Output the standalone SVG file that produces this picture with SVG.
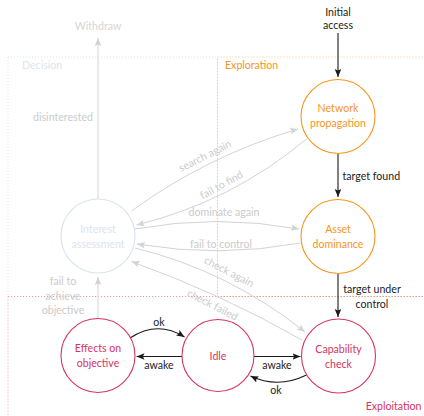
<svg xmlns="http://www.w3.org/2000/svg" width="424" height="416" viewBox="0 0 424 416">
  <style>
    text { font-family: Lato, "Open Sans", "Liberation Sans", sans-serif; font-size: 10.6px; }
    .mid { text-anchor: middle; }
    .zone { fill: none; stroke-width: 0.9; stroke-dasharray: 1 2; }
    .node { fill: #ffffff; stroke-width: 1.1; }
    .explore { stroke: #F7941D; }
    .exploit { stroke: #D7345F; }
    .decide { stroke: #D9E3EE; }
    .t-explore { fill: #F7941D; }
    .t-exploit { fill: #D7345F; }
    .t-decide { fill: #DCE5EF; }
    .t-grey { fill: #CBCBCB; }
    .t-black { fill: #222222; }
    .e-black { fill: none; stroke: #1a1a1a; stroke-width: 1.1; }
    .e-grey { fill: none; stroke: #D3D3D3; stroke-width: 1; }
    .e-exit { fill: none; stroke: #DDDDDD; stroke-width: 1.3; }
  </style>
  <defs>
    <marker id="tip-black" markerUnits="userSpaceOnUse" viewBox="0 -4 8 8" refX="8" refY="0" markerWidth="8" markerHeight="8" orient="auto">
      <path d="M0,-3.3 L8,0 L0,3.3 L1.6,0 Z" fill="#1a1a1a"/>
    </marker>
    <marker id="tip-grey" markerUnits="userSpaceOnUse" viewBox="0 -4 8 8" refX="8" refY="0" markerWidth="8" markerHeight="8" orient="auto">
      <path d="M0,-3.3 L8,0 L0,3.3 L1.6,0 Z" fill="#D3D3D3"/>
    </marker>
  </defs>

  <!-- phase zones -->
  <g id="zones">
    <rect class="zone" x="8" y="57" width="209.5" height="239.5" stroke="#D9E3EE"/>
    <rect class="zone" x="217.5" y="57" width="212" height="239.5" stroke="#FBC084"/>
    <rect class="zone" x="8" y="296.5" width="421" height="124" stroke="#EE8FA8"/>
    <text x="22" y="68.5" class="t-decide">Decision</text>
    <text x="225" y="68.5" class="t-explore">Exploration</text>
    <text x="421.5" y="410" class="t-exploit" text-anchor="end">Exploitation</text>
  </g>

  <!-- transitions -->
  <g id="connectors">
    <!-- entry and forward path -->
    <path class="e-black" d="M338,33 L338,77" marker-end="url(#tip-black)"/>
    <path class="e-black" d="M338,154 L338,197" marker-end="url(#tip-black)"/>
    <path class="e-black" d="M338,274 L338,317" marker-end="url(#tip-black)"/>
    <!-- exploitation loop -->
    <path class="e-black" d="M130,338 Q157.5,320 184.5,337" marker-end="url(#tip-black)"/>
    <path class="e-black" d="M182,356.5 L136.5,356.5" marker-end="url(#tip-black)"/>
    <path class="e-black" d="M254,356.5 L300.5,356.5" marker-end="url(#tip-black)"/>
    <path class="e-black" d="M306.5,375 Q278,389 250.5,376" marker-end="url(#tip-black)"/>
    <!-- decision feedback -->
    <path class="e-exit" d="M98,199 L98,38" marker-end="url(#tip-grey)"/>
    <path class="e-exit" d="M98,319 L98,277" marker-end="url(#tip-grey)"/>
    <path class="e-grey" d="M131.5,211 Q207.7,155.6 298,129" marker-end="url(#tip-grey)"/>
    <path class="e-grey" d="M306.5,139 Q231.6,201.6 136.5,225" marker-end="url(#tip-grey)"/>
    <path class="e-grey" d="M135,229 Q217,214 299,229" marker-end="url(#tip-grey)"/>
    <path class="e-grey" d="M300.5,243 Q219,258 137,244" marker-end="url(#tip-grey)"/>
    <path class="e-grey" d="M135,248 Q229.3,271.2 305,332" marker-end="url(#tip-grey)"/>
    <path class="e-grey" d="M302,340 Q220.7,293.6 131.5,261.5" marker-end="url(#tip-grey)"/>

    <!-- transition labels -->
    <text x="338" y="16" class="mid t-black">Initial</text>
    <text x="338" y="29" class="mid t-black">access</text>
    <text x="342.5" y="179.5" class="t-black">target found</text>
    <text x="372" y="293" class="mid t-black">target under</text>
    <text x="372" y="307.5" class="mid t-black">control</text>
    <text x="159" y="326" class="mid t-black">ok</text>
    <text x="159" y="369" class="mid t-black">awake</text>
    <text x="277" y="368.5" class="mid t-black">awake</text>
    <text x="276" y="394" class="mid t-black">ok</text>

    <text x="98" y="30" class="mid" fill="#D6D6D6">Withdraw</text>
    <text x="93" y="121" class="t-grey" text-anchor="end">disinterested</text>
    <text x="63" y="284.5" class="mid t-grey">fail to</text>
    <text x="63" y="299.5" class="mid t-grey">achieve</text>
    <text x="63" y="313.5" class="mid t-grey">objective</text>
    <text transform="translate(205,156) rotate(-27)" y="3.5" class="mid t-grey">search again</text>
    <text transform="translate(221.5,185) rotate(-29)" y="3.5" class="mid t-grey">fail to find</text>
    <text x="224" y="215.5" class="mid t-grey">dominate again</text>
    <text x="221" y="248" class="mid t-grey">fail to control</text>
    <text transform="translate(229,272) rotate(27)" y="3.5" class="mid t-grey">check again</text>
    <text transform="translate(212.5,305) rotate(27)" y="3.5" class="mid t-grey">check failed</text>
  </g>

  <!-- states -->
  <g id="network-propagation">
    <circle class="node explore" cx="338" cy="116.5" r="37"/>
    <text x="338" y="112" class="mid t-explore">Network</text>
    <text x="338" y="127" class="mid t-explore">propagation</text>
  </g>
  <g id="asset-dominance">
    <circle class="node explore" cx="338" cy="236.5" r="37"/>
    <text x="338" y="233" class="mid t-explore">Asset</text>
    <text x="338" y="248" class="mid t-explore">dominance</text>
  </g>
  <g id="capability-check">
    <circle class="node exploit" cx="338.5" cy="356" r="37"/>
    <text x="338.5" y="353" class="mid t-exploit">Capability</text>
    <text x="338.5" y="367.5" class="mid t-exploit">check</text>
  </g>
  <g id="idle">
    <circle class="node exploit" cx="218" cy="355.5" r="36"/>
    <text x="218" y="360" class="mid t-exploit">Idle</text>
  </g>
  <g id="effects-on-objective">
    <circle class="node exploit" cx="98" cy="355.5" r="37"/>
    <text x="98" y="352" class="mid t-exploit">Effects on</text>
    <text x="98" y="366.5" class="mid t-exploit">objective</text>
  </g>
  <g id="interest-assessment">
    <circle class="node decide" cx="98" cy="236" r="37"/>
    <text x="98" y="233" class="mid t-decide">Interest</text>
    <text x="98" y="248" class="mid t-decide">assessment</text>
  </g>
</svg>
